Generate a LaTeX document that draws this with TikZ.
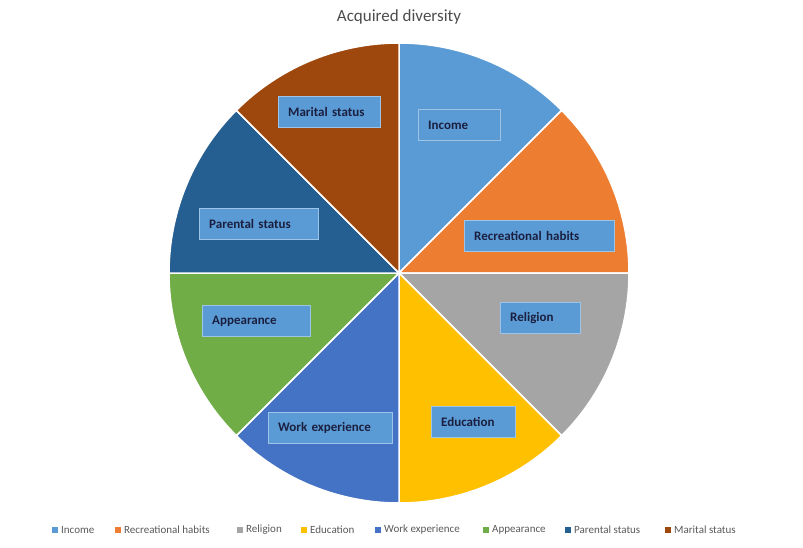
\documentclass[tikz,border=0pt]{standalone}
\usepackage{fontspec}
\setmainfont{Carlito}
\usetikzlibrary{positioning}
\definecolor{cIncome}{HTML}{5B9BD5}
\definecolor{cRecr}{HTML}{ED7D31}
\definecolor{cRelig}{HTML}{A5A5A5}
\definecolor{cEduc}{HTML}{FFC000}
\definecolor{cWork}{HTML}{4472C4}
\definecolor{cAppear}{HTML}{70AD47}
\definecolor{cParent}{HTML}{255E91}
\definecolor{cMarital}{HTML}{9E480E}
\definecolor{labelfg}{HTML}{1B1F3F}
\tikzset{
  slicelabel/.style={draw=cIncome!60!white, fill=cIncome, text=labelfg,
    font=\fontsize{13}{15}\selectfont\bfseries, anchor=west, align=left,
    inner xsep=10pt, minimum height=31pt},
  legendtext/.style={text=black!65, font=\fontsize{11}{13}\selectfont, anchor=west, inner sep=1pt},
}
\begin{document}
\begin{tikzpicture}[x=1pt, y=-1pt]
    \useasboundingbox (0,0) rectangle (803,548);
    % Title
    \node[text=black!70, font=\fontsize{17}{20}\selectfont] (title) at (399,17) {Acquired diversity};

    % Slices, clockwise from the top
    \foreach \col [count=\i from 0] in {cIncome,cRecr,cRelig,cEduc,cWork,cAppear,cParent,cMarital} {
        \fill[\col, draw=white, line width=1.5pt]
            (399,273) -- ++({-90+45*\i}:230) arc[start angle={-90+45*\i}, end angle={-45+45*\i}, radius=230] -- cycle;
    }

    % Labels
    \node[slicelabel, text width=62pt] (income) at (418,125) {Income};
    \node[slicelabel, text width=130pt] (recr) at (464,236) {Recreational habits};
    \node[slicelabel, text width=60pt] (relig) at (500,318) {Religion};
    \node[slicelabel, text width=64pt] (educ) at (431,422) {Education};
    \node[slicelabel, text width=104pt] (work) at (268,428) {Work experience};
    \node[slicelabel, text width=88pt] (appear) at (202,321) {Appearance};
    \node[slicelabel, text width=99pt] (parent) at (199,224) {Parental status};
    \node[slicelabel, text width=82pt] (marital) at (278,112) {Marital status};

    % Legend
    \foreach \col/\x/\txt in {cIncome/55/Income, cRecr/118/Recreational habits, cRelig/240/Religion,
        cEduc/304/Education, cWork/378/Work experience, cAppear/486/Appearance,
        cParent/568/Parental status, cMarital/668/Marital status} {
        \fill[\col] (\x-3,530-3) rectangle (\x+3,530+3);
        \node[legendtext] at (\x+5,530) {\txt};
    }
\end{tikzpicture}
\end{document}
